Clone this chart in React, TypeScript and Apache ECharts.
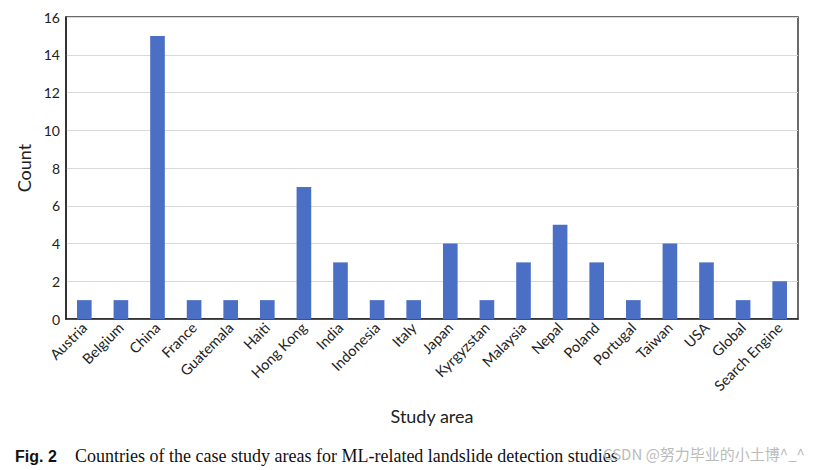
import React, { useEffect, useRef } from "react";
import * as echarts from "echarts";

const categories = ["Austria", "Belgium", "China", "France", "Guatemala", "Haiti", "Hong Kong", "India", "Indonesia", "Italy", "Japan", "Kyrgyzstan", "Malaysia", "Nepal", "Poland", "Portugal", "Taiwan", "USA", "Global", "Search Engine"];
const counts = [1, 1, 15, 1, 1, 1, 7, 3, 1, 1, 4, 1, 3, 5, 3, 1, 4, 3, 1, 2];
const yTicks = [0, 2, 4, 6, 8, 10, 12, 14, 16];

const FONT = "Lato, 'Open Sans', sans-serif";

export default function App() {
  const ref = useRef<HTMLDivElement>(null);
  useEffect(() => {
    const chart = echarts.init(ref.current!, null, { renderer: "svg" });
    chart.setOption({
      animation: false,
      backgroundColor: "#ffffff",
      grid: {
        left: 66, top: 17, right: 23, bottom: 151,
        show: true, borderColor: "#3a3a3a", borderWidth: 1.5, backgroundColor: "transparent",
      },
      xAxis: {
        type: "category",
        data: categories,
        name: "Study area",
        nameLocation: "middle",
        nameGap: 88,
        nameTextStyle: { fontFamily: FONT, fontSize: 18, color: "#222" },
        axisLine: { show: true, lineStyle: { color: "#222", width: 1.5 } },
        axisTick: { show: false },
        axisLabel: { rotate: 45, interval: 0, fontFamily: FONT, fontSize: 14.5, color: "#222", margin: 6 },
      },
      yAxis: {
        type: "value",
        min: yTicks[0],
        max: yTicks[yTicks.length - 1],
        interval: 2,
        name: "Count",
        nameLocation: "middle",
        nameGap: 30,
        nameTextStyle: { fontFamily: FONT, fontSize: 18, color: "#222" },
        axisLine: { show: true, lineStyle: { color: "#222", width: 1.5 } },
        axisTick: { show: false },
        axisLabel: { fontFamily: FONT, fontSize: 14, color: "#222", margin: 6 },
        splitLine: { lineStyle: { color: "#d9d9d9", width: 1 } },
      },
      series: [
        {
          type: "bar",
          data: counts,
          barWidth: "40%",
          itemStyle: { color: "#4a6fc4" },
        },
      ],
      graphic: [
        {
          type: "text",
          left: 15,
          top: 448,
          style: { text: "Fig. 2", font: "bold 16px 'Liberation Sans Narrow', 'Liberation Sans', sans-serif", fill: "#111" },
        },
        {
          type: "text",
          left: 75,
          top: 447,
          style: { text: "Countries of the case study areas for ML-related landslide detection studies", font: "18px 'Liberation Serif', 'DejaVu Serif', serif", fill: "#111" },
        },
        {
          type: "text",
          left: 603,
          top: 446,
          style: { text: "CSDN @努力毕业的小土博^_^", font: "15px 'Noto Sans CJK SC', sans-serif", fill: "#bbbbbb" },
        },
      ],
    });
    return () => chart.dispose();
  }, []);
  return <div ref={ref} style={{ position: "fixed", left: 0, top: 0, width: 821, height: 470 }} />;
}
